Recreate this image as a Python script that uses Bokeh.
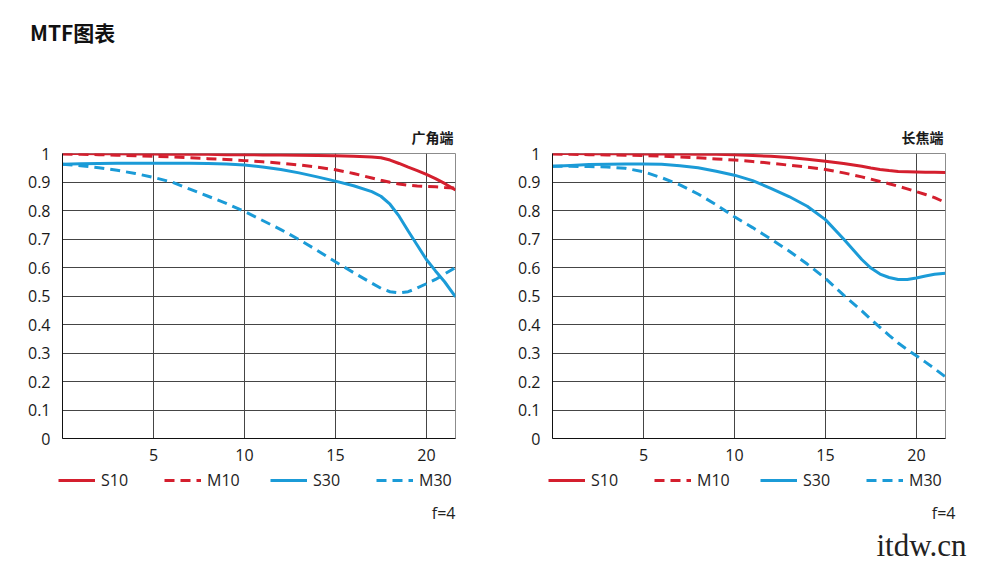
from bokeh.plotting import figure
from bokeh.models import Legend, LegendItem, FixedTicker, Title, Div, Label, Range1d
from bokeh.layouts import row, column
from bokeh.embed import file_html
from bokeh.resources import INLINE

# ---------------- data ----------------
image_height_mm = [0, 1, 2, 3, 4, 5, 6, 7, 8, 9, 10, 11, 12, 13, 14, 15, 16, 17,
                   17.5, 18, 18.5, 19, 19.5, 20, 20.5, 21, 21.6]

wide_S10 = [1.0, 1.0, 0.999, 0.999, 0.998, 0.998, 0.997, 0.997, 0.997, 0.996, 0.996, 0.995,
            0.995, 0.994, 0.993, 0.992, 0.99, 0.988,
            0.985, 0.977, 0.965, 0.952, 0.94, 0.927, 0.912, 0.895, 0.872]
wide_M10 = [0.998, 0.997, 0.996, 0.994, 0.992, 0.99, 0.988, 0.985, 0.982, 0.979, 0.975, 0.971,
            0.966, 0.96, 0.952, 0.943, 0.93, 0.914,
            0.906, 0.899, 0.893, 0.889, 0.886, 0.884, 0.883, 0.881, 0.879]
wide_S30 = [0.962, 0.964, 0.965, 0.966, 0.966, 0.966, 0.966, 0.966, 0.965, 0.963, 0.96, 0.953,
            0.944, 0.932, 0.918, 0.903, 0.887, 0.866,
            0.85, 0.822, 0.78, 0.728, 0.678, 0.628, 0.588, 0.55, 0.497]
wide_M30 = [0.962, 0.957, 0.95, 0.941, 0.93, 0.916, 0.9, 0.875, 0.85, 0.825, 0.797, 0.765,
            0.733, 0.698, 0.66, 0.62, 0.582, 0.545,
            0.527, 0.515, 0.511, 0.515, 0.528, 0.543, 0.558, 0.577, 0.6]

tele_S10 = [1.0, 1.0, 0.999, 0.999, 0.999, 0.998, 0.998, 0.998, 0.997, 0.997, 0.996, 0.993,
            0.99, 0.986, 0.98, 0.973, 0.965, 0.955,
            0.949, 0.944, 0.94, 0.937, 0.936, 0.935, 0.934, 0.934, 0.933]
tele_M10 = [0.998, 0.997, 0.996, 0.995, 0.994, 0.993, 0.991, 0.988, 0.985, 0.981, 0.977, 0.972,
            0.966, 0.959, 0.952, 0.944, 0.932, 0.918,
            0.91, 0.902, 0.894, 0.885, 0.876, 0.866, 0.856, 0.845, 0.828]
tele_S30 = [0.955, 0.958, 0.961, 0.962, 0.963, 0.963, 0.962, 0.957, 0.95, 0.938, 0.924, 0.905,
            0.878, 0.849, 0.815, 0.768, 0.7, 0.628,
            0.598, 0.577, 0.565, 0.558, 0.558, 0.563, 0.57, 0.576, 0.58]
tele_M30 = [0.955, 0.955, 0.954, 0.953, 0.948, 0.936, 0.915, 0.89, 0.858, 0.82, 0.778, 0.74,
            0.7, 0.658, 0.612, 0.562, 0.503, 0.448,
            0.418, 0.39, 0.362, 0.335, 0.312, 0.29, 0.268, 0.245, 0.216]

series_names = ["S10", "M10", "S30", "M30"]
y_ticks = [0, 0.1, 0.2, 0.3, 0.4, 0.5, 0.6, 0.7, 0.8, 0.9, 1]
y_tick_labels = ["0", "0.1", "0.2", "0.3", "0.4", "0.5", "0.6", "0.7", "0.8", "0.9", "1"]
x_ticks = [5, 10, 15, 20]
x_max = 21.6

title_text = "MTF图表"
wide_label = "广角端"
tele_label = "长焦端"
aperture_text = "f=4"
watermark_text = "itdw.cn"

# ---------------- styling / layout ----------------
RED = "#d41f2e"
BLUE = "#1b9bd7"
GRID = "#454545"
FONT = "Open Sans"
CJK = "Noto Sans CJK SC"
STYLES = [(RED, "solid"), (RED, "10 6"), (BLUE, "solid"), (BLUE, "10 6")]
FRAME_W, FRAME_H = 393, 285
HEAD = 60                        # title strip
TOP = 153 - HEAD                 # border above each frame
BOTTOM = 32                      # border below each frame (x tick labels)
FOOT = 569 - HEAD - TOP - FRAME_H - BOTTOM   # legend strip height
FOOT_TOP = 569 - FOOT


def make_chart(left, right, ys, corner_text):
    p = figure(frame_width=FRAME_W, frame_height=FRAME_H,
               x_range=(0, x_max), y_range=(0, 1),
               output_backend="svg", toolbar_location=None,
               min_border_left=left, min_border_right=right,
               min_border_top=TOP, min_border_bottom=BOTTOM,
               background_fill_color="white", border_fill_color="white")
    p.outline_line_color = "#8c8c8c"
    p.outline_line_width = 1

    p.xaxis.ticker = FixedTicker(ticks=x_ticks)
    p.yaxis.ticker = FixedTicker(ticks=y_ticks)
    p.yaxis.major_label_overrides = {t: l for t, l in zip(y_ticks, y_tick_labels)}
    for ax in (p.xaxis[0], p.yaxis[0]):
        ax.axis_line_color = "#111111"
        ax.axis_line_width = 1
        ax.major_tick_line_color = None
        ax.minor_tick_line_color = None
        ax.major_label_text_font = FONT
        ax.major_label_text_font_size = "16px"
        ax.major_label_text_color = "#1a1a1a"
    p.yaxis.major_label_standoff = 6
    p.xaxis.major_label_standoff = 4

    p.xgrid.ticker = FixedTicker(ticks=x_ticks)
    p.ygrid.ticker = FixedTicker(ticks=y_ticks[1:-1])
    p.xgrid.grid_line_color = GRID
    p.ygrid.grid_line_color = GRID

    for y, (col, dash) in zip(ys, STYLES):
        p.line(image_height_mm, y, line_color=col, line_width=3, line_dash=dash)

    p.add_layout(Title(text=corner_text, align="right", offset=2, standoff=14,
                       vertical_align="bottom", text_font=CJK, text_font_style="bold",
                       text_font_size="14px", text_color="#1a1a1a"), "above")
    return p


def make_footer(legend_x, ys):
    f = figure(width=500, height=FOOT, x_range=Range1d(0, 500), y_range=Range1d(FOOT, 0),
               x_axis_type=None, y_axis_type=None, output_backend="svg",
               toolbar_location=None, min_border=0, outline_line_color=None,
               background_fill_color="white", border_fill_color="white")
    f.xgrid.visible = False
    f.ygrid.visible = False
    # legend proxies: the same series on a range that keeps them out of view
    f.extra_y_ranges = {"hidden": Range1d(5, 6)}
    items = []
    for name, y, (col, dash) in zip(series_names, ys, STYLES):
        r = f.line(image_height_mm, y, line_color=col, line_width=3, line_dash=dash,
                   y_range_name="hidden")
        items.append(LegendItem(label=name, renderers=[r]))
    leg_h = 22
    legend = Legend(items=items, orientation="horizontal",
                    location=(legend_x, FOOT - (480 - FOOT_TOP - leg_h / 2) - leg_h),
                    glyph_width=37, glyph_height=leg_h, label_height=leg_h,
                    label_width=36, label_standoff=6, spacing=27, padding=0, margin=0,
                    border_line_color=None, background_fill_alpha=0,
                    label_text_font=FONT, label_text_font_size="16px",
                    label_text_color="#222222")
    f.add_layout(legend, "center")
    f.add_layout(Label(x=455, y=512 - FOOT_TOP, text=aperture_text, text_align="right",
                       text_baseline="middle", text_font=FONT, text_font_size="16px",
                       text_color="#222222"))
    return f


wide = [wide_S10, wide_M10, wide_S30, wide_M30]
tele = [tele_S10, tele_M10, tele_S30, tele_M30]
p1 = make_chart(62, 45, wide, wide_label)
p2 = make_chart(52, 55, tele, tele_label)

f1 = make_footer(58, wide)
f2 = make_footer(48, tele)
f2.add_layout(Label(x=876 - 500, y=545 - FOOT_TOP, text=watermark_text, text_align="left",
                    text_baseline="middle", text_font="Liberation Serif",
                    text_font_size="31px", text_color="#222222"))

head = Div(text=('<div style="position:absolute; left:30px; top:19px; '
                 'font-family:\'Noto Sans CJK SC\'; font-weight:bold; font-size:21px; '
                 'line-height:26px; color:#111; white-space:nowrap;">' + title_text + '</div>'),
           width=1000, height=HEAD, margin=0, styles={"position": "relative"})

layout = column(head, row(p1, p2, spacing=0), row(f1, f2, spacing=0), spacing=0)
open("out.html", "w").write(file_html(layout, INLINE))
